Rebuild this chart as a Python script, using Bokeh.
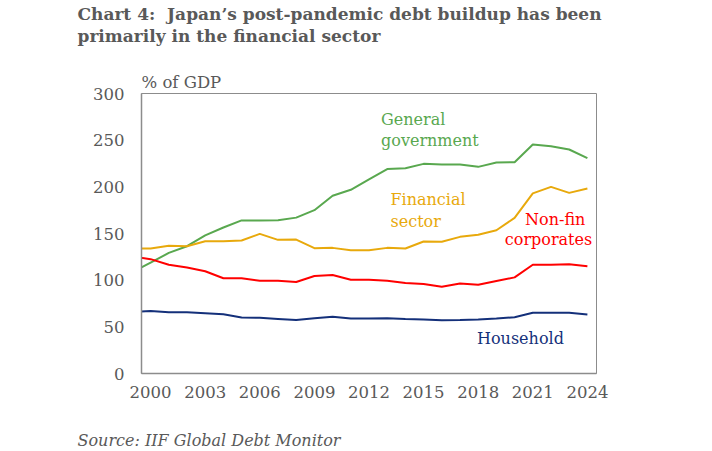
from bokeh.plotting import figure
from bokeh.models import Range1d, FixedTicker, Label, Title
from bokeh.embed import file_html
from bokeh.resources import INLINE

# ---- data (1999 only supplies the clipped lead-in segment) ----
years = list(range(1999, 2025))
general_government = [108.5, 118.7, 129.2, 136.4, 148.0, 156.4, 164.0, 164.0, 164.3, 167.0,
                      175.0, 190.5, 196.8, 208.0, 219.0, 220.0, 224.6, 224.0, 224.0, 221.4,
                      226.0, 226.4, 245.4, 243.5, 240.0, 230.7]
financial_sector = [134.0, 134.0, 136.8, 136.4, 141.7, 141.7, 142.5, 149.6, 143.2, 143.5,
                    134.3, 134.6, 132.1, 132.1, 134.6, 133.9, 141.4, 141.1, 146.4, 148.7,
                    153.5, 166.7, 193.0, 200.0, 193.5, 198.2]
non_fin_corporates = [125.5, 122.5, 116.5, 113.5, 109.5, 102.0, 102.0, 99.5, 99.3, 98.0,
                      104.5, 105.5, 100.5, 100.5, 99.5, 97.0, 96.0, 93.0, 96.5, 95.0,
                      99.0, 103.0, 116.5, 116.5, 117.0, 115.0]
household = [65.8, 67.0, 65.7, 65.7, 64.6, 63.5, 60.0, 59.6, 58.5, 57.4,
             59.2, 60.7, 58.9, 58.9, 59.2, 58.5, 57.9, 57.1, 57.4, 57.9,
             59.0, 60.3, 65.0, 65.0, 65.0, 63.3]
x_ticks = [2000, 2003, 2006, 2009, 2012, 2015, 2018, 2021, 2024]
y_ticks = [0, 50, 100, 150, 200, 250, 300]

GREEN = "#59A84F"
YELLOW = "#E8A90C"
RED = "#FF0000"
NAVY = "#14307A"
GREY = "#595959"
FONT = "DejaVu Serif"

p = figure(width=712, height=451, output_backend="svg", toolbar_location=None, title=None,
           x_range=Range1d(1999.5, 2024.5), y_range=Range1d(0, 300),
           min_border_left=141, min_border_right=116, min_border_top=93, min_border_bottom=78)

p.xgrid.visible = False
p.ygrid.visible = False
p.outline_line_color = "#8C8C8C"
p.outline_line_width = 1

for ax in (p.xaxis, p.yaxis):
    ax.axis_line_color = "#8C8C8C"
    ax.axis_line_width = 1.5
    ax.major_tick_line_color = None
    ax.minor_tick_line_color = None
    ax.major_tick_out = 0
    ax.major_tick_in = 0
    ax.major_label_text_font = FONT
    ax.major_label_text_font_size = "16.5px"
    ax.major_label_text_color = GREY

p.xaxis.ticker = FixedTicker(ticks=x_ticks)
p.yaxis.ticker = FixedTicker(ticks=y_ticks)
p.xaxis.major_label_standoff = 12
p.yaxis.major_label_standoff = 17

p.line(years, general_government, line_color=GREEN, line_width=2)
p.line(years, financial_sector, line_color=YELLOW, line_width=2)
p.line(years, non_fin_corporates, line_color=RED, line_width=2)
p.line(years, household, line_color=NAVY, line_width=2)

def title(text, place, size="17px", style="normal", offset=-64, standoff=0):
    p.add_layout(Title(text=text, align="left", offset=offset, standoff=standoff,
                       text_font=FONT, text_font_size=size, text_font_style=style,
                       text_color=GREY), place)

# outer texts as titles (first added sits nearest the frame); "\u00a0" titles are spacers
title("% of GDP", "above", "16.5px", offset=0, standoff=4)
title("\u00a0", "above", "16.5px", standoff=2)
title("primarily in the financial sector", "above", "17px", "bold")
title("Chart 4:\u00a0 Japan\u2019s post-pandemic debt buildup has been", "above", "17px", "bold")
title("\u00a0", "below", "16px", standoff=7)
title("Source: IIF Global Debt Monitor", "below", "16px", "italic")

def lab(text, sx, sy, color, size="16px", align="left"):
    p.add_layout(Label(x=sx, y=sy, x_units="screen", y_units="screen", text=text,
                       text_font=FONT, text_font_size=size,
                       text_color=color, text_align=align, text_baseline="alphabetic"))

# series labels
lab("General", 239.5, 254, GREEN)
lab("government", 239.5, 233, GREEN)
lab("Financial", 249, 174, YELLOW)
lab("sector", 249, 152, YELLOW)
lab("Non-fin", 413.7, 154, RED, align="center")
lab("corporates", 407, 134, RED, align="center")
lab("Household", 335.5, 35, NAVY)

open("out.html", "w").write(file_html(p, INLINE))
